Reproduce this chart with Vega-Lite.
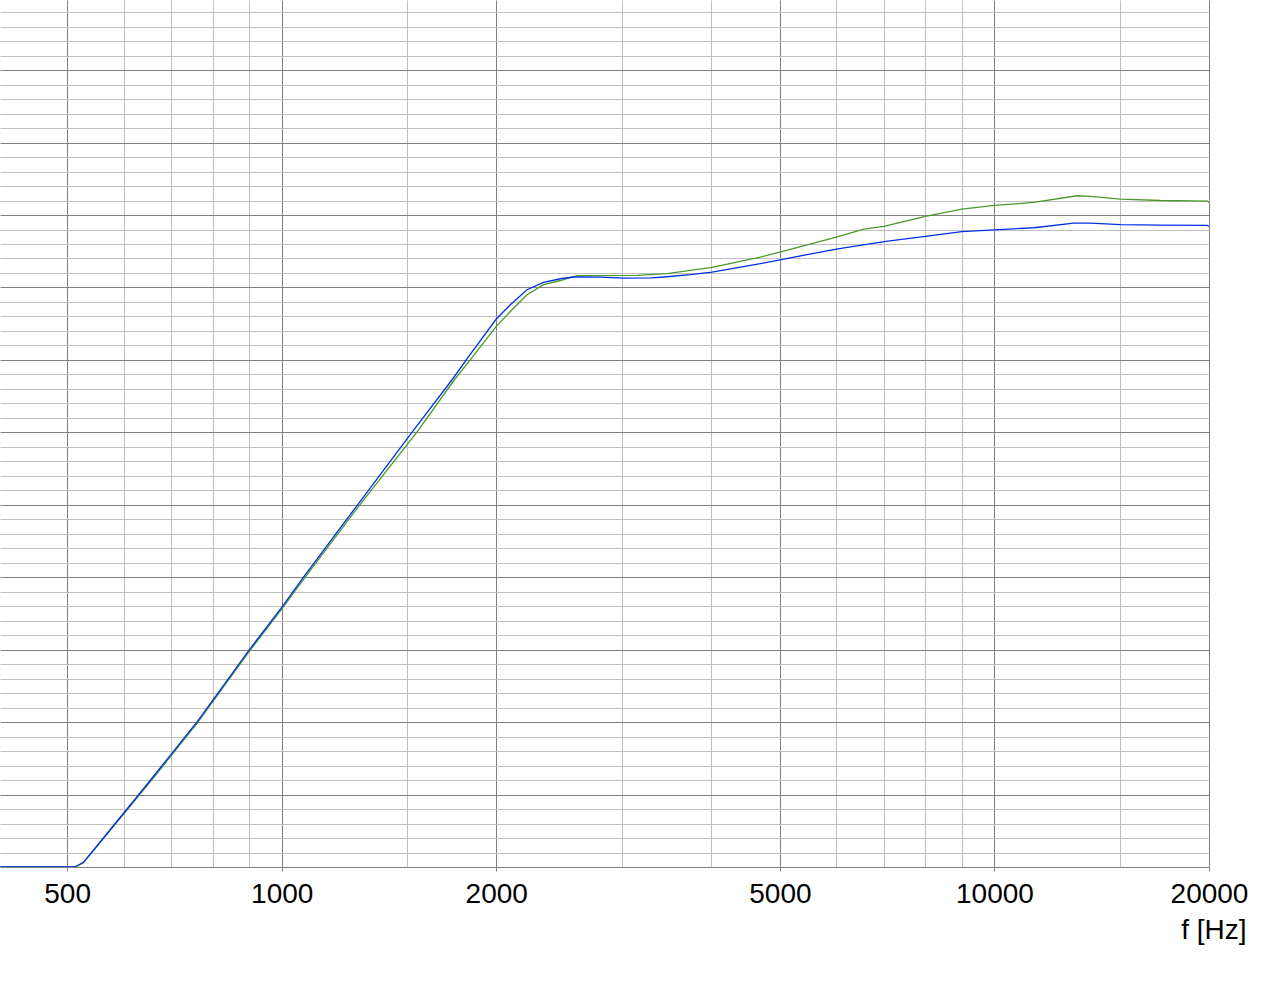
{
  "$schema": "https://vega.github.io/schema/vega-lite/v6.json",
  "width": 1209,
  "height": 867,
  "autosize": "none",
  "padding": {"left": 0, "top": 0, "right": 79, "bottom": 125},
  "background": "white",
  "config": {"font": "Liberation Sans", "view": {"stroke": null}},
  "data": {
    "values": [
      {"series": "blue", "f": 402.5, "db": 40},
      {"series": "blue", "f": 513, "db": 40},
      {"series": "blue", "f": 527, "db": 40.32},
      {"series": "blue", "f": 550, "db": 41.43},
      {"series": "blue", "f": 629.5, "db": 44.97},
      {"series": "blue", "f": 664.4, "db": 46.4},
      {"series": "blue", "f": 760.3, "db": 50.0},
      {"series": "blue", "f": 901, "db": 55.0},
      {"series": "blue", "f": 1000, "db": 57.92},
      {"series": "blue", "f": 1073, "db": 60.0},
      {"series": "blue", "f": 1278, "db": 65.0},
      {"series": "blue", "f": 1523, "db": 70.0},
      {"series": "blue", "f": 1734, "db": 73.63},
      {"series": "blue", "f": 1815, "db": 75.0},
      {"series": "blue", "f": 2000, "db": 77.82},
      {"series": "blue", "f": 2093, "db": 78.81},
      {"series": "blue", "f": 2209, "db": 79.84},
      {"series": "blue", "f": 2330, "db": 80.35},
      {"series": "blue", "f": 2460, "db": 80.6},
      {"series": "blue", "f": 2568, "db": 80.72},
      {"series": "blue", "f": 2800, "db": 80.71},
      {"series": "blue", "f": 3020, "db": 80.65},
      {"series": "blue", "f": 3300, "db": 80.66},
      {"series": "blue", "f": 3435, "db": 80.72},
      {"series": "blue", "f": 3744, "db": 80.88},
      {"series": "blue", "f": 4016, "db": 81.06},
      {"series": "blue", "f": 4694, "db": 81.64},
      {"series": "blue", "f": 5000, "db": 81.91},
      {"series": "blue", "f": 6000, "db": 82.65},
      {"series": "blue", "f": 7000, "db": 83.17},
      {"series": "blue", "f": 8000, "db": 83.52},
      {"series": "blue", "f": 9000, "db": 83.86},
      {"series": "blue", "f": 10000, "db": 83.98},
      {"series": "blue", "f": 11355, "db": 84.12},
      {"series": "blue", "f": 12925, "db": 84.44},
      {"series": "blue", "f": 13640, "db": 84.44},
      {"series": "blue", "f": 15027, "db": 84.33},
      {"series": "blue", "f": 17100, "db": 84.3},
      {"series": "blue", "f": 19890, "db": 84.28},
      {"series": "blue", "f": 20000, "db": 84.21},
      {"series": "green", "f": 402.5, "db": 40},
      {"series": "green", "f": 513, "db": 40},
      {"series": "green", "f": 527, "db": 40.3},
      {"series": "green", "f": 629.5, "db": 44.9},
      {"series": "green", "f": 664.4, "db": 46.3},
      {"series": "green", "f": 760.3, "db": 49.9},
      {"series": "green", "f": 901, "db": 54.9},
      {"series": "green", "f": 1000, "db": 57.8},
      {"series": "green", "f": 1073, "db": 59.85},
      {"series": "green", "f": 1278, "db": 64.8},
      {"series": "green", "f": 1547, "db": 70.0},
      {"series": "green", "f": 1747, "db": 73.63},
      {"series": "green", "f": 1839, "db": 75.0},
      {"series": "green", "f": 2000, "db": 77.31},
      {"series": "green", "f": 2093, "db": 78.34},
      {"series": "green", "f": 2209, "db": 79.5},
      {"series": "green", "f": 2330, "db": 80.19},
      {"series": "green", "f": 2460, "db": 80.48},
      {"series": "green", "f": 2596, "db": 80.81},
      {"series": "green", "f": 3151, "db": 80.83},
      {"series": "green", "f": 3473, "db": 80.95},
      {"series": "green", "f": 4016, "db": 81.38},
      {"series": "green", "f": 4694, "db": 82.1},
      {"series": "green", "f": 5000, "db": 82.44},
      {"series": "green", "f": 6000, "db": 83.48},
      {"series": "green", "f": 6556, "db": 84.03},
      {"series": "green", "f": 7000, "db": 84.21},
      {"series": "green", "f": 8000, "db": 84.9},
      {"series": "green", "f": 9000, "db": 85.41},
      {"series": "green", "f": 10000, "db": 85.66},
      {"series": "green", "f": 11355, "db": 85.87},
      {"series": "green", "f": 13066, "db": 86.33},
      {"series": "green", "f": 13640, "db": 86.28},
      {"series": "green", "f": 15027, "db": 86.1},
      {"series": "green", "f": 17100, "db": 86.0},
      {"series": "green", "f": 19890, "db": 85.96},
      {"series": "green", "f": 20000, "db": 85.87}
    ]
  },
  "layer": [
    {
      "transform": [{"filter": "datum.series === 'green'"}],
      "mark": {"type": "line", "color": "#4a9a2a", "strokeWidth": 1.3, "clip": true},
      "encoding": {
        "x": {
          "field": "f",
          "type": "quantitative",
          "scale": {"type": "log", "domain": [402.5, 20000], "nice": false},
          "axis": {
            "orient": "top",
            "values": [600, 700, 800, 900, 1500, 3000, 4000, 6000, 7000, 8000, 9000, 15000],
            "grid": true,
            "gridColor": "#c0c0c0",
            "gridOpacity": 1,
            "labels": false,
            "ticks": false,
            "domain": false,
            "title": null
          }
        },
        "y": {
          "field": "db",
          "type": "quantitative",
          "scale": {"domain": [40, 99.84], "nice": false, "zero": false},
          "axis": {
            "orient": "right",
            "values": [41, 42, 43, 44, 46, 47, 48, 49, 51, 52, 53, 54, 56, 57, 58, 59, 61, 62, 63, 64, 66, 67, 68, 69, 71, 72, 73, 74, 76, 77, 78, 79, 81, 82, 83, 84, 86, 87, 88, 89, 91, 92, 93, 94, 96, 97, 98, 99],
            "grid": true,
            "gridColor": "#c0c0c0",
            "gridOpacity": 1,
            "labels": false,
            "ticks": false,
            "domain": false,
            "title": null
          }
        }
      }
    },
    {
      "transform": [{"filter": "datum.series === 'blue'"}],
      "mark": {"type": "line", "color": "#0030e8", "strokeWidth": 1.3, "clip": true},
      "encoding": {
        "x": {
          "field": "f",
          "type": "quantitative",
          "axis": {
            "orient": "bottom",
            "values": [500, 1000, 2000, 5000, 10000, 20000],
            "format": "d",
            "grid": true,
            "gridColor": "#808080",
            "gridOpacity": 1,
            "domain": false,
            "ticks": true,
            "tickSize": 4,
            "tickColor": "#808080",
            "labelFontSize": 28,
            "labelColor": "#000000",
            "labelBaseline": "alphabetic",
            "labelPadding": 31,
            "labelOverlap": false,
            "labelFlush": false,
            "title": "f [Hz]",
            "titleFontSize": 28,
            "titleFontWeight": "normal",
            "titleColor": "#000000",
            "titleAlign": "right",
            "titleBaseline": "alphabetic",
            "titleX": 1246,
            "titleY": 71
          }
        },
        "y": {
          "field": "db",
          "type": "quantitative",
          "axis": {
            "orient": "left",
            "values": [40, 45, 50, 55, 60, 65, 70, 75, 80, 85, 90, 95],
            "grid": true,
            "gridColor": "#808080",
            "gridOpacity": 1,
            "labels": false,
            "ticks": false,
            "domain": false,
            "title": null
          }
        }
      }
    }
  ],
  "resolve": {"axis": {"x": "independent", "y": "independent"}}
}
